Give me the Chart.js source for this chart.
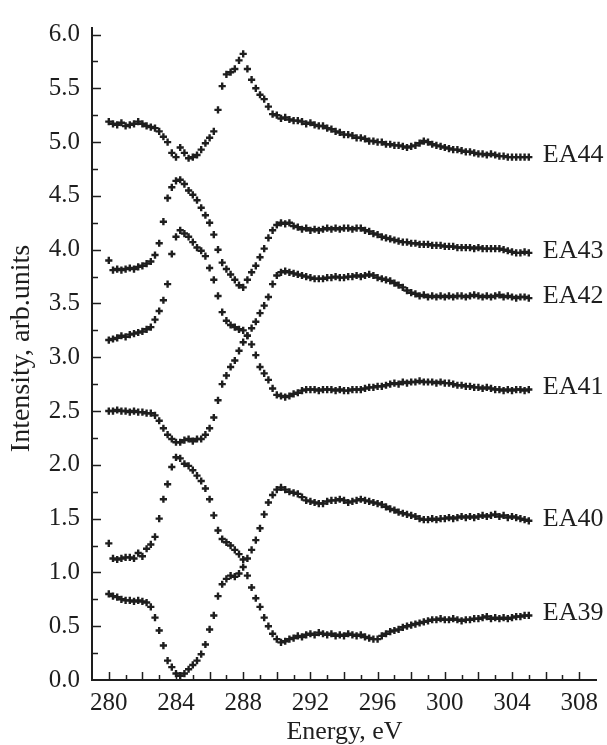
<!DOCTYPE html>
<html>
<head>
<meta charset="utf-8">
<script src="https://cdn.jsdelivr.net/npm/chart.js@4/dist/chart.umd.min.js"></script>
<style>
  html, body { margin: 0; padding: 0; background: #fff; }
  #wrap { width: 607px; height: 745px; position: relative; }
</style>
</head>
<body>
<div id="wrap"><canvas id="spectraChart"></canvas></div>
<script>
  // photon energy grid, eV
  const energy = [
    280, 280.25, 280.5, 280.75, 281, 281.25, 281.5, 281.75, 282, 282.25,
    282.5, 282.75, 283, 283.25, 283.5, 283.75, 284, 284.25, 284.5, 284.75,
    285, 285.25, 285.5, 285.75, 286, 286.25, 286.5, 286.75, 287, 287.25,
    287.5, 287.75, 288, 288.25, 288.5, 288.75, 289, 289.25, 289.5, 289.75,
    290, 290.25, 290.5, 290.75, 291, 291.25, 291.5, 291.75, 292, 292.25,
    292.5, 292.75, 293, 293.25, 293.5, 293.75, 294, 294.25, 294.5, 294.75,
    295, 295.25, 295.5, 295.75, 296, 296.25, 296.5, 296.75, 297, 297.25,
    297.5, 297.75, 298, 298.25, 298.5, 298.75, 299, 299.25, 299.5, 299.75,
    300, 300.25, 300.5, 300.75, 301, 301.25, 301.5, 301.75, 302, 302.25,
    302.5, 302.75, 303, 303.25, 303.5, 303.75, 304, 304.25, 304.5, 304.75,
    305
  ];

  const ea44 = [
    5.19, 5.17, 5.16, 5.18, 5.15, 5.16, 5.17, 5.19, 5.17, 5.15,
    5.14, 5.13, 5.10, 5.05, 5.00, 4.90, 4.86, 4.95, 4.90, 4.85,
    4.86, 4.88, 4.93, 4.99, 5.04, 5.10, 5.30, 5.52, 5.63, 5.65,
    5.68, 5.76, 5.82, 5.68, 5.58, 5.50, 5.44, 5.40, 5.33, 5.26,
    5.25, 5.22, 5.23, 5.21, 5.20, 5.20, 5.19, 5.17, 5.18, 5.16,
    5.15, 5.15, 5.13, 5.12, 5.10, 5.09, 5.07, 5.07, 5.06, 5.04,
    5.04, 5.03, 5.01, 5.01, 5.00, 5.00, 4.98, 4.98, 4.97, 4.97,
    4.96, 4.95, 4.96, 4.97, 4.99, 5.01, 5.00, 4.98, 4.97, 4.96,
    4.95, 4.94, 4.93, 4.93, 4.92, 4.91, 4.91, 4.90, 4.89, 4.89,
    4.88, 4.89, 4.88, 4.87, 4.87, 4.86, 4.86, 4.86, 4.86, 4.86,
    4.86
  ];

  const ea43 = [
    3.90, 3.81, 3.82, 3.81, 3.82, 3.83, 3.82, 3.84, 3.85, 3.87,
    3.89, 3.95, 4.06, 4.26, 4.48, 4.58, 4.64, 4.65, 4.61, 4.55,
    4.51, 4.46, 4.39, 4.32, 4.25, 4.14, 4.00, 3.88, 3.82, 3.77,
    3.72, 3.67, 3.65, 3.72, 3.79, 3.85, 3.93, 4.01, 4.11, 4.18,
    4.23, 4.25, 4.24, 4.25, 4.22, 4.21, 4.19, 4.20, 4.18, 4.19,
    4.18, 4.19, 4.20, 4.19, 4.20, 4.19, 4.20, 4.20, 4.19, 4.20,
    4.20, 4.18, 4.17, 4.15, 4.14, 4.12, 4.11, 4.10, 4.09, 4.08,
    4.07, 4.07, 4.06, 4.06, 4.05, 4.05, 4.05, 4.04, 4.04, 4.04,
    4.03, 4.03, 4.03, 4.02, 4.02, 4.02, 4.02, 4.01, 4.02, 4.01,
    4.01, 4.01, 4.01, 4.01, 4.00, 3.99, 3.98, 3.97, 3.97, 3.98,
    3.97
  ];

  const ea42 = [
    2.50, 2.50, 2.51, 2.50, 2.50, 2.49, 2.50, 2.49, 2.49, 2.48,
    2.48, 2.46, 2.41, 2.34, 2.28, 2.24, 2.21, 2.21, 2.23, 2.24,
    2.22, 2.24, 2.24, 2.28, 2.34, 2.44, 2.60, 2.75, 2.83, 2.91,
    2.97, 3.06, 3.14, 3.20, 3.27, 3.33, 3.41, 3.48, 3.56, 3.68,
    3.76, 3.79, 3.80, 3.79, 3.78, 3.77, 3.76, 3.75, 3.74, 3.73,
    3.73, 3.73, 3.74, 3.74, 3.75, 3.74, 3.74, 3.75, 3.75, 3.76,
    3.75, 3.76, 3.77, 3.76, 3.74, 3.73, 3.72, 3.71, 3.69, 3.67,
    3.65, 3.62, 3.60, 3.59, 3.57, 3.58, 3.56, 3.57, 3.56, 3.57,
    3.56, 3.57, 3.56, 3.57, 3.57, 3.56, 3.57, 3.58, 3.57, 3.56,
    3.57, 3.56, 3.57, 3.58, 3.56, 3.57, 3.56, 3.55, 3.56, 3.56,
    3.55
  ];

  const ea41 = [
    3.16, 3.17, 3.18, 3.20, 3.19, 3.21, 3.22, 3.23, 3.24, 3.26,
    3.28, 3.35, 3.43, 3.53, 3.68, 3.96, 4.12, 4.18, 4.15, 4.12,
    4.07, 4.02, 3.99, 3.94, 3.83, 3.72, 3.57, 3.42, 3.34, 3.30,
    3.28, 3.26, 3.25, 3.20, 3.12, 3.02, 2.91, 2.85, 2.79, 2.71,
    2.65, 2.64, 2.63, 2.64, 2.66, 2.67, 2.69, 2.70, 2.70, 2.70,
    2.69, 2.70, 2.70, 2.70, 2.69, 2.70, 2.69, 2.69, 2.70, 2.70,
    2.70, 2.71, 2.72, 2.72, 2.73, 2.73, 2.74, 2.75, 2.76, 2.75,
    2.77, 2.76, 2.77, 2.77, 2.78, 2.77, 2.77, 2.77, 2.76, 2.77,
    2.76, 2.76, 2.75, 2.74, 2.74, 2.73, 2.73, 2.72, 2.72, 2.71,
    2.72, 2.71, 2.70, 2.70, 2.69, 2.70, 2.69, 2.70, 2.70, 2.69,
    2.70
  ];

  const ea40 = [
    0.80, 0.78, 0.77, 0.75, 0.74, 0.74, 0.73, 0.74, 0.73, 0.72,
    0.68, 0.58, 0.46, 0.32, 0.18, 0.12, 0.06, 0.04, 0.06, 0.10,
    0.14, 0.18, 0.24, 0.33, 0.47, 0.60, 0.78, 0.89, 0.94, 0.97,
    0.96, 0.99, 1.05, 1.13, 1.21, 1.30, 1.41, 1.54, 1.65, 1.72,
    1.77, 1.79, 1.77, 1.75, 1.74, 1.73, 1.70, 1.67, 1.66, 1.65,
    1.64, 1.64, 1.66, 1.67, 1.67, 1.68, 1.67, 1.65, 1.66, 1.67,
    1.68, 1.67, 1.66, 1.65, 1.64, 1.63, 1.61, 1.59, 1.58, 1.56,
    1.55, 1.54, 1.53, 1.52, 1.50, 1.49, 1.49, 1.50, 1.49, 1.50,
    1.50, 1.51, 1.50, 1.51, 1.52, 1.51, 1.52, 1.51, 1.52, 1.53,
    1.52, 1.53, 1.54, 1.52, 1.53, 1.51, 1.52, 1.51, 1.50, 1.49,
    1.48
  ];

  const ea39 = [
    1.27, 1.13, 1.12, 1.13, 1.14, 1.14, 1.13, 1.18, 1.15, 1.22,
    1.26, 1.33, 1.50, 1.68, 1.82, 1.98, 2.07, 2.06, 2.01, 1.99,
    1.95, 1.90, 1.85, 1.78, 1.68, 1.53, 1.39, 1.31, 1.28, 1.25,
    1.21, 1.17, 1.12, 0.97, 0.86, 0.76, 0.68, 0.58, 0.50, 0.43,
    0.38, 0.35, 0.36, 0.38, 0.39, 0.41, 0.40, 0.42, 0.43, 0.42,
    0.44, 0.43, 0.42, 0.43, 0.41, 0.42, 0.41, 0.43, 0.42, 0.41,
    0.42, 0.40, 0.39, 0.38, 0.38, 0.41, 0.43, 0.45, 0.46, 0.47,
    0.49, 0.50, 0.51, 0.52, 0.53, 0.54, 0.55, 0.56, 0.56, 0.57,
    0.56, 0.56, 0.57, 0.56, 0.55, 0.56, 0.56, 0.57, 0.57, 0.58,
    0.59, 0.57, 0.58, 0.57, 0.58, 0.57, 0.58, 0.59, 0.59, 0.60,
    0.60
  ];

  const seriesNames = ['EA44', 'EA43', 'EA42', 'EA41', 'EA40', 'EA39'];
  const seriesValues = [ea44, ea43, ea42, ea41, ea40, ea39];

  const INK = '#1e1e1e';
  const SERIF = '"Liberation Serif", "Times New Roman", serif';

  // axis lines, inward tick marks, y title and the curve names at the right
  const framePlugin = {
    id: 'framePlugin',
    afterDraw(chart) {
      const { ctx, chartArea: a, scales: { x, y } } = chart;
      ctx.save();
      ctx.strokeStyle = INK;
      ctx.lineWidth = 2;
      ctx.beginPath();
      ctx.moveTo(a.left, a.top);
      ctx.lineTo(a.left, a.bottom);
      ctx.lineTo(a.right, a.bottom);
      ctx.stroke();

      ctx.lineWidth = 1.5;
      ctx.beginPath();
      x.ticks.forEach(t => {
        if (t.value <= x.min || t.value >= 309) return;
        const px = Math.round(x.getPixelForValue(t.value)) + 0.5;
        const len = t.value % 2 === 0 ? 8 : 5;
        ctx.moveTo(px, a.bottom);
        ctx.lineTo(px, a.bottom - len);
      });
      y.ticks.forEach(t => {
        if (t.value <= 0) return;
        const py = Math.round(y.getPixelForValue(t.value)) + 0.5;
        const len = t.value % 0.5 === 0 ? 9 : 6;
        ctx.moveTo(a.left, py);
        ctx.lineTo(a.left + len, py);
      });
      ctx.stroke();

      ctx.fillStyle = INK;
      ctx.textBaseline = 'middle';

      ctx.save();
      ctx.font = '28px ' + SERIF;
      ctx.textAlign = 'center';
      ctx.translate(22, (a.top + a.bottom) / 2 - 5);
      ctx.rotate(-Math.PI / 2);
      ctx.fillText('Intensity, arb.units', 0, 0);
      ctx.restore();

      ctx.font = '26px ' + SERIF;
      ctx.textAlign = 'left';
      chart.data.datasets.forEach(ds => {
        const last = ds.data[ds.data.length - 1];
        ctx.fillText(ds.label, x.getPixelForValue(last.x) + 14, y.getPixelForValue(last.y) - 2);
      });
      ctx.restore();
    }
  };

  const datasets = seriesNames.map((name, i) => ({
    label: name,
    data: energy.map((e, j) => ({ x: e, y: seriesValues[i][j] })),
    pointStyle: 'cross',
    pointRadius: 3.6,
    pointBorderWidth: 2.4,
    borderColor: INK,
    backgroundColor: INK,
    showLine: false
  }));

  new Chart(document.getElementById('spectraChart'), {
    type: 'scatter',
    data: { datasets: datasets },
    options: {
      responsive: true,
      maintainAspectRatio: false,
      animation: false,
      events: [],
      layout: { padding: { left: 0, top: 12, right: 10, bottom: 0 } },
      plugins: {
        legend: { display: false },
        tooltip: { enabled: false }
      },
      scales: {
        x: {
          type: 'linear',
          min: 279,
          max: 309.06,
          border: { display: false },
          grid: { display: false, drawTicks: false },
          ticks: {
            stepSize: 1,
            includeBounds: false,
            autoSkip: false,
            maxRotation: 0,
            padding: 8,
            color: INK,
            font: { family: SERIF, size: 25 },
            callback: v => (v % 4 === 0 ? String(v) : '')
          },
          title: {
            display: true,
            text: 'Energy, eV',
            color: INK,
            font: { family: SERIF, size: 26, lineHeight: 0.8 },
            padding: { top: 0, bottom: 2 }
          },
          afterFit: s => { s.height = 65; }
        },
        y: {
          min: 0,
          max: 6.07,
          border: { display: false },
          grid: { display: false, drawTicks: false },
          ticks: {
            stepSize: 0.25,
            includeBounds: false,
            autoSkip: false,
            padding: 12,
            color: INK,
            font: { family: SERIF, size: 25 },
            callback: v => (v % 0.5 === 0 ? v.toFixed(1) : '')
          },
          afterFit: s => { s.width = 92; }
        }
      }
    },
    plugins: [framePlugin]
  });
</script>
</body>
</html>
